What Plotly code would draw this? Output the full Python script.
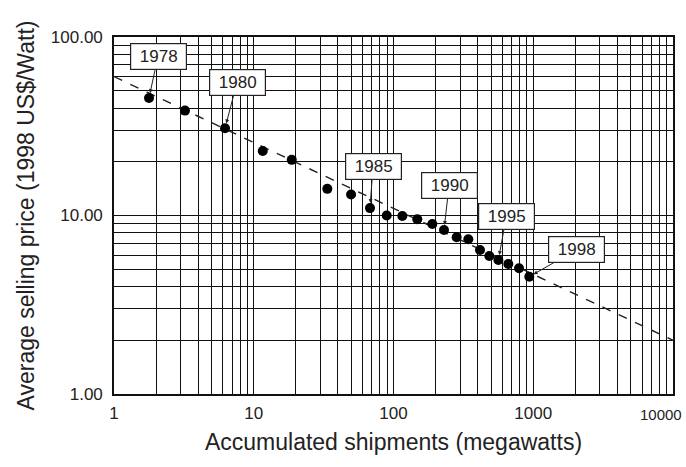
import math
import plotly.graph_objects as go

# Data
years = list(range(1978, 1999))
shipments_mw = [1.78, 3.22, 6.23, 11.6, 18.7, 33.6, 49.7, 67.9, 89.4, 115.7, 148,
                189.6, 229.8, 283, 343, 416, 485, 563, 663, 791, 937]
price_usd_w = [45.5, 38.7, 30.8, 23.0, 20.5, 14.1, 13.1, 11.0, 10.0, 9.94, 9.52,
               8.96, 8.30, 7.55, 7.36, 6.41, 5.93, 5.63, 5.35, 5.06, 4.54]

trend_x = [1, 10000]
trend_y = [60, 2.0]

label_years = [1978, 1980, 1985, 1990, 1995, 1998]
label_offsets = [(9, -42), (12, -46), (3, -42), (5, -44), (8, -44), (47, -27)]

x_tickvals = [1, 10, 100, 1000, 10000]
x_ticktext = ["1", "10", "100", "1000", "10000"]
y_tickvals = [1, 10, 100]
y_ticktext = ["1.00", "10.00", "100.00"]

FONT = "Liberation Sans, Arial, sans-serif"
GRID = "#111"

x_minor = [m * d for d in (1, 10, 100, 1000) for m in range(2, 10)]
y_minor = [m * d for d in (1, 10) for m in range(2, 10)]

fig = go.Figure()
fig.add_trace(go.Scatter(x=trend_x, y=trend_y, mode="lines",
                         line=dict(color="#222", width=1.4, dash="dash"),
                         hoverinfo="skip", showlegend=False))
fig.add_trace(go.Scatter(x=shipments_mw, y=price_usd_w, mode="markers",
                         marker=dict(color="black", size=10),
                         text=[str(y) for y in years], showlegend=False))

for yr, (ax, ay) in zip(label_years, label_offsets):
    i = years.index(yr)
    fig.add_annotation(x=math.log10(shipments_mw[i]), y=math.log10(price_usd_w[i]),
                       xref="x", yref="y", text=str(yr), showarrow=True,
                       ax=ax, ay=ay, arrowhead=2, arrowsize=0.8, arrowwidth=1,
                       arrowcolor="#222", standoff=5,
                       font=dict(family=FONT, size=17, color="#222"),
                       bgcolor="white", bordercolor="#222", borderwidth=1.2,
                       borderpad=2, width=51, height=21)

# The last x tick label sits at the very edge of the figure; draw it right-aligned
fig.add_annotation(x=math.log10(x_tickvals[-1]), y=0, xref="x", yref="paper",
                   text=x_ticktext[-1], showarrow=False, xanchor="right", yanchor="top",
                   xshift=11, yshift=-10,
                   font=dict(family=FONT, size=15, color="#222"))

fig.update_xaxes(type="log", range=[0, 4], tickvals=x_tickvals[:-1], ticktext=x_ticktext[:-1],
                 showgrid=True, gridcolor=GRID, gridwidth=1.4,
                 minor=dict(tickvals=x_minor, showgrid=True, gridcolor=GRID, gridwidth=1.4),
                 showline=True, linecolor=GRID, linewidth=1.6, mirror=True,
                 ticks="", ticklabelstandoff=3, zeroline=False,
                 automargin=False,
                 tickfont=dict(family=FONT, size=17, color="#222"),
                 title=dict(text="Accumulated shipments (megawatts)",
                            font=dict(family=FONT, size=23, color="#222"), standoff=12))
fig.update_yaxes(type="log", range=[0, 2], tickvals=y_tickvals, ticktext=y_ticktext,
                 showgrid=True, gridcolor=GRID, gridwidth=1.4,
                 minor=dict(tickvals=y_minor, showgrid=True, gridcolor=GRID, gridwidth=1.4),
                 showline=True, linecolor=GRID, linewidth=1.6, mirror=True,
                 ticks="", ticklabelstandoff=6, zeroline=False, ticklabeloverflow="allow",
                 automargin=False,
                 tickfont=dict(family=FONT, size=17, color="#222"),
                 title=dict(text="Average selling price (1998 US$/Watt)",
                            font=dict(family=FONT, size=23, color="#222"), standoff=10))

fig.update_layout(width=686, height=467, margin=dict(l=114, r=13, t=37, b=73),
                  paper_bgcolor="white", plot_bgcolor="white",
                  font=dict(family=FONT, color="#222"))

fig.write_html("out.html", config={"displayModeBar": False},
               post_script="document.body.style.margin='0';")
